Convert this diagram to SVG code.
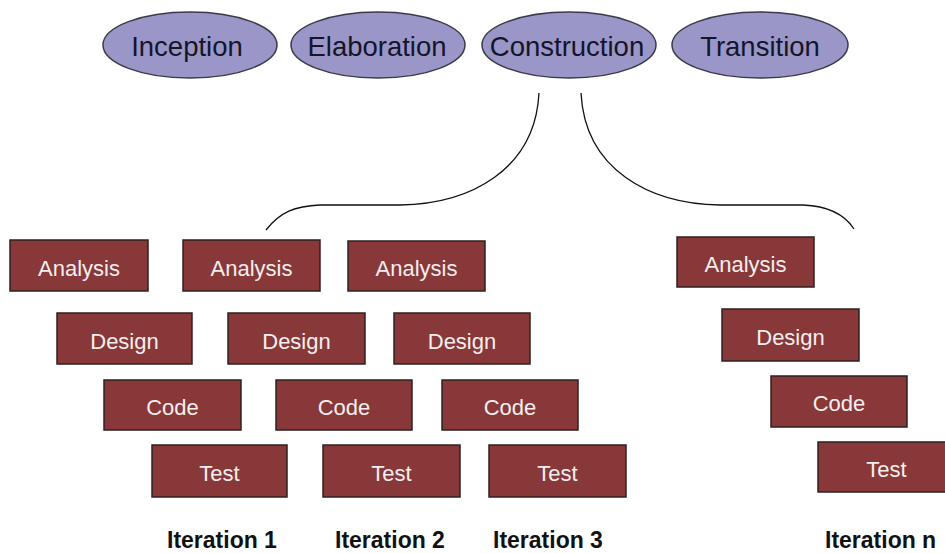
<svg xmlns="http://www.w3.org/2000/svg" width="945" height="553" viewBox="0 0 945 553">
<style>
.ph ellipse{fill:#9a97c8;stroke:#3a3a4a;stroke-width:1.5}
.ph text{font-family:"Liberation Sans",Arial,sans-serif;font-size:27.5px;fill:#15152a;text-anchor:middle}
.bx rect{fill:#883838;stroke:#2e2020;stroke-width:1.5}
.bx text{font-family:"Liberation Sans",Arial,sans-serif;font-size:22px;fill:#f4eeee;text-anchor:middle}
.it{font-family:"Liberation Sans",Arial,sans-serif;font-size:23px;font-weight:bold;fill:#111}
.br{fill:none;stroke:#111;stroke-width:1.3}
</style>
<rect width="945" height="553" fill="#fff"/>
<g id="inception" class="ph"><ellipse cx="190" cy="45" rx="87" ry="33"/><text x="187" y="56">Inception</text></g>
<g id="elaboration" class="ph"><ellipse cx="378" cy="45" rx="87" ry="33"/><text x="377" y="56">Elaboration</text></g>
<g id="construction" class="ph"><ellipse cx="569" cy="45" rx="87" ry="33"/><text x="567" y="56">Construction</text></g>
<g id="transition" class="ph"><ellipse cx="760" cy="45" rx="88" ry="33"/><text x="760" y="56">Transition</text></g>

<g id="connectors">
<path class="br" d="M 266 230 C 280 212, 295 206, 320 205 L 400 205 C 470 204, 535 170, 539 93"/>
<path class="br" d="M 581 93 C 585 170, 650 204, 720 205 L 803 205 C 828 206, 845 215, 854 229"/>
</g>

<g id="i1-analysis" class="bx"><rect x="10" y="240" width="138" height="51"/><text x="79" y="276">Analysis</text></g>
<g id="i1-design" class="bx"><rect x="57" y="313" width="135" height="51"/><text x="124.5" y="349">Design</text></g>
<g id="i1-code" class="bx"><rect x="104" y="380" width="137" height="50"/><text x="172.5" y="415">Code</text></g>
<g id="i1-test" class="bx"><rect x="152" y="445" width="135" height="52"/><text x="219.5" y="481">Test</text></g>

<g id="i2-analysis" class="bx"><rect x="183" y="240" width="137" height="51"/><text x="251.5" y="276">Analysis</text></g>
<g id="i2-design" class="bx"><rect x="228" y="313" width="137" height="51"/><text x="296.5" y="349">Design</text></g>
<g id="i2-code" class="bx"><rect x="276" y="380" width="136" height="50"/><text x="344" y="415">Code</text></g>
<g id="i2-test" class="bx"><rect x="323" y="445" width="137" height="52"/><text x="391.5" y="481">Test</text></g>

<g id="i3-analysis" class="bx"><rect x="348" y="241" width="137" height="50"/><text x="416.5" y="276">Analysis</text></g>
<g id="i3-design" class="bx"><rect x="394" y="313" width="136" height="51"/><text x="462" y="349">Design</text></g>
<g id="i3-code" class="bx"><rect x="442" y="380" width="136" height="50"/><text x="510" y="415">Code</text></g>
<g id="i3-test" class="bx"><rect x="489" y="445" width="137" height="52"/><text x="557.5" y="481">Test</text></g>

<g id="in-analysis" class="bx"><rect x="677" y="237" width="137" height="50"/><text x="745.5" y="272">Analysis</text></g>
<g id="in-design" class="bx"><rect x="722" y="309" width="137" height="52"/><text x="790.5" y="345">Design</text></g>
<g id="in-code" class="bx"><rect x="771" y="376" width="136" height="51"/><text x="839" y="411">Code</text></g>
<g id="in-test" class="bx"><rect x="818" y="442" width="137" height="50"/><text x="886.5" y="477">Test</text></g>

<g id="labels">
<text class="it" x="167" y="548">Iteration 1</text>
<text class="it" x="335" y="548">Iteration 2</text>
<text class="it" x="493" y="548">Iteration 3</text>
<text class="it" x="825" y="548">Iteration n</text>
</g>
</svg>
